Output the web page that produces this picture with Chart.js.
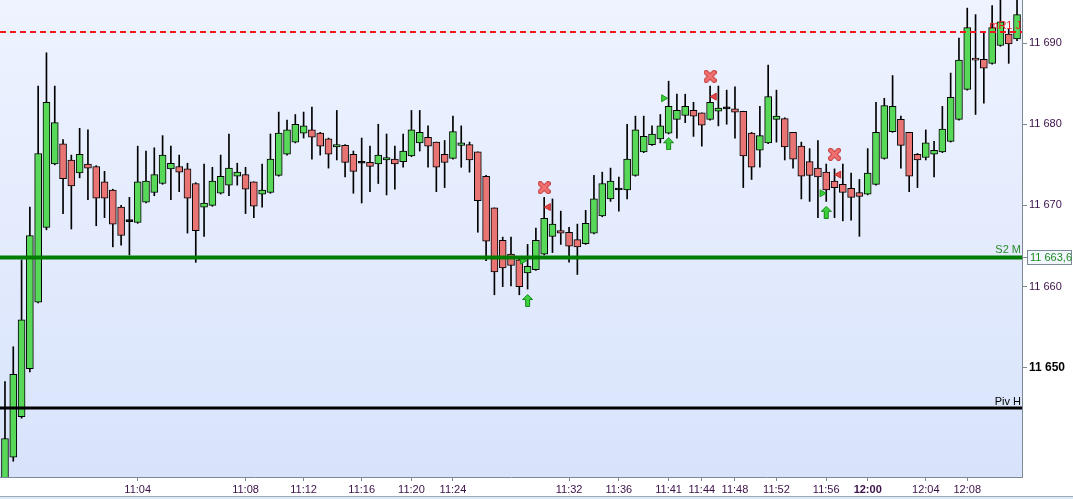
<!DOCTYPE html>
<html>
<head>
<meta charset="utf-8">
<script src="https://cdn.jsdelivr.net/npm/chart.js@4"></script>
<style>
  html, body { margin: 0; padding: 0; background: #fff; }
  #wrap { width: 1073px; height: 499px; position: relative; }
</style>
</head>
<body>
<div id="wrap"><canvas id="candles"></canvas></div>
<script>
// candle data, one entry per bar
const opens = [11636.0,11639.0,11644.0,11649.9,11658.1,11667.3,11675.1,11677.6,11675.6,11674.0,
  11675.1,11674.8,11672.9,11671.9,11669.8,11668.0,11667.9,11670.4,11671.6,11672.7,
  11674.5,11674.8,11674.5,11672.7,11669.8,11670.0,11671.5,11672.5,11673.6,11673.8,
  11672.9,11671.4,11671.6,11673.7,11676.3,11677.8,11678.9,11679.3,11678.9,11678.2,
  11677.2,11677.4,11676.3,11675.2,11675.3,11675.1,11675.6,11675.7,11675.4,11676.1,
  11677.7,11678.4,11677.8,11676.3,11675.8,11677.4,11677.5,11676.6,11673.6,11669.7,
  11665.7,11664.0,11663.3,11661.7,11662.1,11664.0,11666.2,11666.9,11666.7,11665.8,
  11665.3,11666.6,11668.7,11670.8,11671.9,11671.9,11673.7,11676.6,11677.5,11678.2,
  11678.9,11680.6,11681.1,11681.7,11681.4,11680.6,11681.6,11681.9,11681.9,11681.6,
  11678.9,11676.8,11677.7,11680.6,11680.7,11679.0,11677.3,11675.4,11674.6,11674.1,
  11673.0,11672.6,11672.1,11671.6,11671.4,11672.6,11675.8,11679.1,11680.6,11679.0,
  11676.3,11675.9,11676.3,11676.6,11677.9,11680.6,11684.3,11688.1,11688.0,11687.5,
  11689.7,11691.1,11690.5];
const highs = [11648.3,11652.6,11663.3,11669.8,11684.7,11688.8,11684.7,11678.1,11676.2,11679.5,
  11679.3,11674.9,11674.2,11672.0,11670.0,11671.0,11677.3,11676.7,11677.1,11678.6,
  11677.3,11676.2,11675.2,11672.8,11675.1,11674.7,11676.2,11678.8,11675.2,11674.7,
  11672.9,11675.1,11678.8,11681.5,11680.5,11681.2,11681.5,11682.1,11679.0,11678.3,
  11681.7,11677.5,11676.7,11678.3,11677.3,11680.0,11678.8,11677.3,11678.8,11681.7,
  11681.7,11679.8,11677.8,11678.0,11681.0,11679.8,11677.8,11676.6,11673.7,11669.7,
  11666.1,11666.1,11663.5,11665.2,11667.2,11671.0,11670.8,11669.3,11667.3,11667.7,
  11669.4,11673.7,11674.1,11674.6,11673.5,11680.0,11681.0,11681.0,11679.8,11681.2,
  11685.3,11683.7,11683.7,11682.7,11681.4,11684.7,11684.7,11684.2,11684.6,11681.6,
  11679.0,11682.2,11687.3,11684.2,11680.8,11679.0,11677.8,11677.0,11678.0,11675.1,
  11674.5,11675.1,11674.0,11673.2,11677.0,11682.7,11683.2,11686.0,11681.0,11679.0,
  11676.4,11679.3,11677.9,11682.2,11686.3,11690.6,11694.3,11693.5,11691.3,11694.6,
  11696.0,11691.7,11696.0];
const lows = [11635.0,11638.5,11643.8,11649.5,11658.0,11667.0,11675.0,11669.0,11667.1,11673.4,
  11670.7,11667.5,11668.5,11664.9,11665.1,11663.9,11667.8,11670.3,11671.2,11672.6,
  11670.7,11671.7,11666.6,11663.0,11666.2,11669.9,11671.4,11671.2,11672.5,11669.0,
  11668.5,11669.8,11671.5,11673.6,11676.2,11677.7,11678.3,11675.7,11676.2,11674.6,
  11675.6,11673.5,11671.5,11670.3,11671.7,11672.7,11671.3,11672.0,11674.7,11676.0,
  11676.7,11674.7,11671.7,11672.2,11675.7,11674.7,11674.1,11666.7,11663.2,11659.0,
  11660.0,11660.1,11659.0,11659.7,11662.0,11663.9,11664.2,11665.2,11663.0,11661.5,
  11665.2,11666.5,11668.6,11670.5,11669.3,11670.8,11673.6,11676.5,11677.4,11677.7,
  11678.8,11678.3,11680.2,11678.5,11677.3,11680.5,11679.8,11680.0,11678.3,11672.2,
  11673.2,11674.7,11677.6,11677.8,11675.6,11674.6,11670.8,11670.5,11668.5,11670.5,
  11668.5,11668.1,11668.2,11666.2,11671.3,11672.5,11675.7,11679.0,11674.6,11671.7,
  11672.2,11675.6,11673.5,11676.5,11677.8,11680.5,11684.2,11681.2,11682.6,11687.4,
  11689.6,11687.5,11690.3];
const closes = [11641.3,11649.2,11655.9,11666.3,11676.4,11682.7,11680.2,11673.3,11672.4,11676.3,
  11674.6,11670.9,11670.9,11667.7,11666.3,11668.0,11672.9,11673.0,11673.8,11676.2,
  11675.2,11674.1,11670.9,11666.9,11670.3,11673.0,11673.6,11674.6,11674.1,11672.0,
  11669.9,11671.9,11675.7,11678.9,11679.3,11680.0,11679.8,11678.4,11677.3,11676.3,
  11677.5,11675.3,11674.2,11675.2,11674.8,11676.2,11675.9,11675.1,11676.7,11679.3,
  11679.0,11677.3,11674.7,11675.3,11679.1,11677.7,11675.6,11670.6,11665.6,11661.8,
  11662.3,11662.6,11660.0,11662.5,11665.7,11668.4,11667.7,11666.6,11665.0,11664.9,
  11667.8,11670.8,11672.7,11673.0,11671.9,11675.7,11679.3,11678.5,11678.8,11679.8,
  11682.2,11681.7,11682.2,11681.0,11679.9,11682.7,11682.0,11681.9,11681.5,11676.1,
  11674.7,11678.6,11683.4,11681.0,11677.2,11675.7,11673.6,11673.7,11673.5,11671.9,
  11672.2,11671.6,11671.0,11671.1,11674.0,11679.0,11682.3,11682.2,11677.4,11673.6,
  11675.6,11677.7,11676.8,11679.4,11683.3,11687.9,11691.9,11687.9,11686.9,11691.9,
  11692.6,11689.9,11693.5];

// time labels and the bar index they sit under
const tickIdx = [16, 29, 36, 43, 49, 54, 68, 74, 80, 84, 88, 93, 99, 104, 111, 116];
const tickLabels = ['11:04','11:08','11:12','11:16','11:20','11:24','11:32','11:36',
  '11:41','11:44','11:48','11:52','11:56','12:00','12:04','12:08'];
const yTicks = [11650, 11660, 11670, 11680, 11690];

// levels
const levelValues = [11691.35, 11663.6, 11645.05];
const levelNames = ['mR1 J', 'S2 M', 'Piv H'];

// signal markers (bar index, price)
const crossIdx = [65, 85, 100];
const crossVal = [11672.2, 11685.9, 11676.3];
const sellTriIdx = [65.5, 85.5, 100.5];
const sellTriVal = [11669.8, 11683.4, 11673.8];
const buyTriIdx = [62.4, 79.4, 98.5];
const buyTriVal = [11663.2, 11683.2, 11671.5];
const arrowIdx = [63, 80, 99];
const arrowVal = [11658.3, 11677.6, 11669.15];

const FONT = "'Liberation Sans', Arial, sans-serif";
const AXIS = '#7a8a96';

function fmt(v) {
  return String(Math.round(v)).replace(/\B(?=(\d{3})+(?!\d))/g, ' ');
}

function makeArrow() {
  const c = document.createElement('canvas');
  c.width = 11; c.height = 13;
  const g = c.getContext('2d');
  g.beginPath();
  g.moveTo(5.5, 0.5); g.lineTo(10.5, 5.5); g.lineTo(7.5, 5.5); g.lineTo(7.5, 12.5);
  g.lineTo(3.5, 12.5); g.lineTo(3.5, 5.5); g.lineTo(0.5, 5.5); g.closePath();
  g.fillStyle = '#3fd03f'; g.fill();
  g.strokeStyle = '#148a14'; g.lineWidth = 1; g.stroke();
  return c;
}

function makeCross() {
  const c = document.createElement('canvas');
  c.width = 13; c.height = 13;
  const g = c.getContext('2d');
  g.lineCap = 'round';
  g.beginPath();
  g.moveTo(2.5, 2.5); g.lineTo(10.5, 10.5);
  g.moveTo(10.5, 2.5); g.lineTo(2.5, 10.5);
  g.strokeStyle = '#c63a3a'; g.lineWidth = 5; g.stroke();
  g.strokeStyle = '#f27272'; g.lineWidth = 3; g.stroke();
  return c;
}

const pts = (xs, ys) => xs.map((x, i) => ({ x: x, y: ys[i] }));

const backdrop = {
  id: 'backdrop',
  beforeDraw(chart) {
    const { ctx, chartArea: a, width, height } = chart;
    ctx.save();
    ctx.fillStyle = '#ffffff';
    ctx.fillRect(0, 0, width, height);
    const gr = ctx.createLinearGradient(0, a.top, 0, a.bottom);
    gr.addColorStop(0, '#eef3ff');
    gr.addColorStop(1, '#d8e3fb');
    ctx.fillStyle = gr;
    ctx.fillRect(a.left, a.top, a.right - a.left, a.bottom - a.top);
    ctx.fillStyle = '#9aa8b4';
    ctx.fillRect(0, height - 3, width, 1);
    ctx.fillStyle = '#dce9f7';
    ctx.fillRect(0, height - 2, width, 2);
    ctx.restore();
  }
};

const levels = {
  id: 'levels',
  afterDatasetsDraw(chart) {
    const { ctx, chartArea: a, scales } = chart;
    const y = scales.y;
    const styles = [
      { color: '#f01818', width: 2, dash: [6, 4], text: '#f01818' },
      { color: '#007d00', width: 4, dash: [], text: '#2a8a2a' },
      { color: '#000000', width: 3, dash: [], text: '#000000' }
    ];
    ctx.save();
    ctx.beginPath();
    ctx.rect(a.left, a.top, a.right - a.left, a.bottom - a.top);
    ctx.clip();
    levelValues.forEach((v, i) => {
      const s = styles[i];
      const py = y.getPixelForValue(v);
      ctx.beginPath();
      ctx.setLineDash(s.dash);
      ctx.strokeStyle = s.color;
      ctx.lineWidth = s.width;
      ctx.moveTo(a.left, py);
      ctx.lineTo(a.right, py);
      ctx.stroke();
      ctx.setLineDash([]);
      ctx.fillStyle = s.text;
      ctx.font = '11px ' + FONT;
      ctx.textAlign = 'right';
      ctx.textBaseline = 'alphabetic';
      ctx.fillText(levelNames[i], a.right - 1, py - s.width / 2 - 2);
    });
    ctx.restore();

    // price box for the S2 level on the axis
    const v = levelValues[1];
    const py = Math.round(y.getPixelForValue(v));
    const txt = fmt(Math.floor(v)) + ',' + v.toFixed(1).split('.')[1];
    ctx.save();
    ctx.strokeStyle = AXIS;
    ctx.lineWidth = 1;
    ctx.beginPath();
    ctx.moveTo(a.right, py + 0.5);
    ctx.lineTo(a.right + 5, py + 0.5);
    ctx.stroke();
    ctx.fillStyle = '#f2f7ff';
    ctx.fillRect(a.right + 5.5, py - 6.5, 44, 14);
    ctx.strokeRect(a.right + 5.5, py - 6.5, 44, 14);
    ctx.fillStyle = '#1f8a1f';
    ctx.font = '11px ' + FONT;
    ctx.textAlign = 'left';
    ctx.textBaseline = 'middle';
    ctx.fillText(txt, a.right + 8, py + 1);
    ctx.restore();
  }
};

new Chart(document.getElementById('candles'), {
  type: 'bar',
  data: {
    datasets: [
      {
        label: 'wicks',
        data: highs.map((h, i) => ({ x: i, y: [lows[i], h] })),
        backgroundColor: '#000',
        barThickness: 1,
        grouped: false,
        order: 3
      },
      {
        label: 'bodies',
        data: opens.map((o, i) => ({ x: i, y: [o, closes[i]] })),
        backgroundColor: opens.map((o, i) => closes[i] > o ? '#58d858' : (closes[i] < o ? '#e87474' : '#000')),
        borderColor: '#000',
        borderWidth: 1,
        borderSkipped: false,
        barThickness: 7,
        minBarLength: 2,
        grouped: false,
        order: 2
      },
      {
        type: 'scatter', label: 'arrows', data: pts(arrowIdx, arrowVal),
        pointStyle: makeArrow(), pointRadius: 5, order: 1
      },
      {
        type: 'scatter', label: 'crosses', data: pts(crossIdx, crossVal),
        pointStyle: makeCross(), pointRadius: 5, order: 1
      },
      {
        type: 'scatter', label: 'sell', data: pts(sellTriIdx, sellTriVal),
        pointStyle: 'triangle', pointRotation: -90, pointRadius: 4,
        backgroundColor: '#e24848', borderColor: '#c02c2c', borderWidth: 1, order: 1
      },
      {
        type: 'scatter', label: 'buy', data: pts(buyTriIdx, buyTriVal),
        pointStyle: 'triangle', pointRotation: 90, pointRadius: 4,
        backgroundColor: '#3ccf3c', borderColor: '#1c9a1c', borderWidth: 1, order: 1
      }
    ]
  },
  options: {
    responsive: true,
    maintainAspectRatio: false,
    animation: false,
    layout: { padding: 0, autoPadding: false },
    plugins: { legend: { display: false }, tooltip: { enabled: false } },
    scales: {
      x: {
        type: 'linear',
        min: -0.6,
        max: 122.6,
        offset: false,
        grid: { offset: false, drawOnChartArea: false, tickLength: 4, tickColor: AXIS },
        border: { color: AXIS, width: 1 },
        afterBuildTicks: s => { s.ticks = tickIdx.map(v => ({ value: v })); },
        afterFit: s => { s.height = 22; s.paddingLeft = 0; s.paddingRight = 0; },
        ticks: {
          autoSkip: false,
          maxRotation: 0,
          padding: 2,
          color: '#3a1048',
          font: c => ({ family: FONT, size: 11,
            weight: c.tick && tickLabels[tickIdx.indexOf(c.tick.value)] === '12:00' ? 'bold' : 'normal' }),
          callback: v => tickLabels[tickIdx.indexOf(v)]
        }
      },
      y: {
        position: 'right',
        min: 11636.56,
        max: 11695.3,
        grid: { drawOnChartArea: false, tickLength: 5, tickColor: AXIS },
        border: { color: AXIS, width: 1 },
        afterBuildTicks: s => { s.ticks = yTicks.map(v => ({ value: v })); },
        afterFit: s => { s.width = 51; s.paddingTop = 0; s.paddingBottom = 0; },
        ticks: {
          padding: 2,
          color: c => c.tick && c.tick.value === 11650 ? '#000' : '#3a1048',
          font: c => c.tick && c.tick.value === 11650
            ? { family: FONT, size: 12, weight: 'bold' }
            : { family: FONT, size: 11, weight: 'normal' },
          callback: v => fmt(v)
        }
      }
    }
  },
  plugins: [backdrop, levels]
});
</script>
</body>
</html>
